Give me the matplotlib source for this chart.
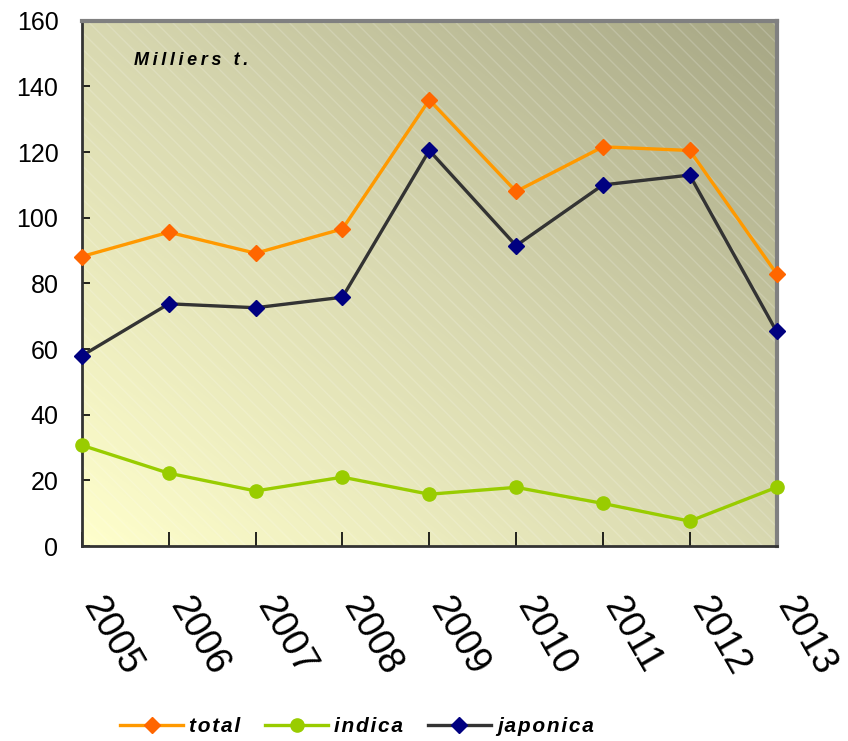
import numpy as np
import matplotlib.pyplot as plt
from matplotlib.colors import LinearSegmentedColormap
from matplotlib.lines import Line2D
from matplotlib.patches import Rectangle

plt.rcParams['font.family'] = ['Liberation Sans', 'DejaVu Sans']

years = [2005, 2006, 2007, 2008, 2009, 2010, 2011, 2012, 2013]
total = [88.2, 95.6, 89.2, 96.6, 135.9, 108.0, 121.6, 120.5, 83.0]
indica = [30.7, 22.2, 16.8, 21.0, 15.8, 17.9, 13.0, 7.6, 17.9]
japonica = [58.0, 73.8, 72.6, 75.8, 120.5, 91.5, 110.0, 113.0, 65.4]
series_names = ['total', 'indica', 'japonica']

fig = plt.figure(figsize=(8.48, 7.41), dpi=100)
ax = fig.add_axes([0.0967, 0.263, 0.819, 0.709])

# diagonal gradient background: light bottom-left -> dark top-right
g = np.linspace(0, 1, 300)
xx, yy = np.meshgrid(g, g)
grad = (xx + (1 - yy)) / 2
cmap = LinearSegmentedColormap.from_list('bg', ['#FFFFCC', '#D8D8B0', '#A6A684'])
ax.imshow(grad, cmap=cmap, extent=[2005, 2013, 0, 160], aspect='auto',
          origin='upper', zorder=0)
ax.add_patch(Rectangle((2005, 0), 8, 160, facecolor='none', edgecolor=(1, 1, 1, 0.18),
                       hatch='\\\\', linewidth=0, zorder=0.5))

ax.plot(years, total, color='#FF9900', lw=2.4, marker='D', ms=8.5,
        mfc='#FF6600', mec='#FF6600', clip_on=False, zorder=3)
ax.plot(years, indica, color='#99CC00', lw=2.4, marker='o', ms=9.5,
        mfc='#99CC00', mec='#99CC00', clip_on=False, zorder=3)
ax.plot(years, japonica, color='#333333', lw=2.4, marker='D', ms=8.5,
        mfc='#000080', mec='#000080', clip_on=False, zorder=4)

ax.set_xlim(2005, 2013)
ax.set_ylim(0, 160)
ax.set_yticks(range(0, 161, 20))
ax.set_xticks(years)
ax.set_xticklabels([])
ax.tick_params(axis='y', direction='in', length=6, width=1.2, labelsize=18, pad=17)
ax.tick_params(axis='x', direction='in', length=10, width=1.2)

for s in ['left', 'bottom']:
    ax.spines[s].set_color('#333333')
    ax.spines[s].set_linewidth(2)
for s in ['top', 'right']:
    ax.spines[s].set_color('#808080')
    ax.spines[s].set_linewidth(3)

for yr in years:
    ax.text(yr, -18, str(yr), rotation=-60, rotation_mode='anchor',
            ha='left', va='baseline', fontsize=27, clip_on=False)

ax.text(2005.6, 146.5, '\u2009'.join('Milliers') + '\u2009 \u2009t\u2009.', fontsize=13,
        fontweight='bold', fontstyle='italic')

handles = [
    Line2D([], [], color='#FF9900', lw=2.4, marker='D', ms=8.5, mfc='#FF6600', mec='#FF6600'),
    Line2D([], [], color='#99CC00', lw=2.4, marker='o', ms=9.5, mfc='#99CC00', mec='#99CC00'),
    Line2D([], [], color='#333333', lw=2.4, marker='D', ms=8.5, mfc='#000080', mec='#000080'),
]
fig.legend(handles, ['\u200a'.join(n) for n in series_names],
           loc='center', bbox_to_anchor=(0.421, 0.019), ncol=3, frameon=False,
           prop={'size': 15, 'weight': 'bold', 'style': 'italic'},
           handlelength=3.0, columnspacing=1.2, handletextpad=0.3)

fig.savefig('out.png', dpi=100)
